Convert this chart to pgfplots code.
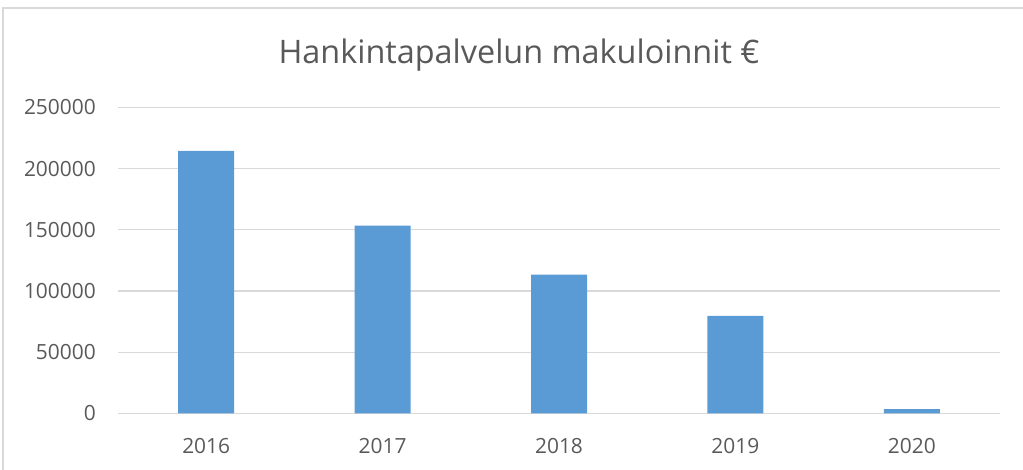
\documentclass[border=0pt]{standalone}
\usepackage{fontspec}
\setmainfont{Open Sans}
\usepackage{pgfplots}
\pgfplotsset{compat=1.18}
\definecolor{barc}{HTML}{5B9BD5}
\definecolor{txt}{HTML}{595959}
\definecolor{grd}{HTML}{D9D9D9}
\begin{document}
\begin{tikzpicture}[x=1bp,y=1bp]
\useasboundingbox (0,0) rectangle (1023,470);
\draw[grd, line width=1.2bp] (3,0) -- (3,462) -- (1023,462);
\node[txt, anchor=base, inner sep=0pt, font=\fontsize{32.5}{38}\selectfont] at (519,406.7) {Hankintapalvelun makuloinnit €};
\begin{axis}[
  at={(118bp,56.5bp)}, anchor=south west,
  scale only axis, width=882bp, height=306bp,
  xmin=-0.5, xmax=4.5, ymin=0, ymax=250000,
  xtick={0,1,2,3,4}, xticklabels={2016,2017,2018,2019,2020},
  ytick={0,50000,100000,150000,200000,250000},
  yticklabels={0,50000,100000,150000,200000,250000},
  major tick length=0pt,
  axis line style={draw=none},
  ymajorgrids, grid style={grd, line width=1.2bp},
  scaled y ticks=false,
  tick label style={txt, font=\fontsize{21}{25}\selectfont, inner sep=0pt},
  xticklabel style={anchor=base, yshift=-39.8bp},
  yticklabel style={anchor=east, xshift=-22bp},
  ybar, bar width=56bp,
]
\addplot[fill=barc, draw=none] coordinates {(0,214500) (1,153500) (2,113400) (3,79700) (4,3500)};
\end{axis}
\end{tikzpicture}
\end{document}
